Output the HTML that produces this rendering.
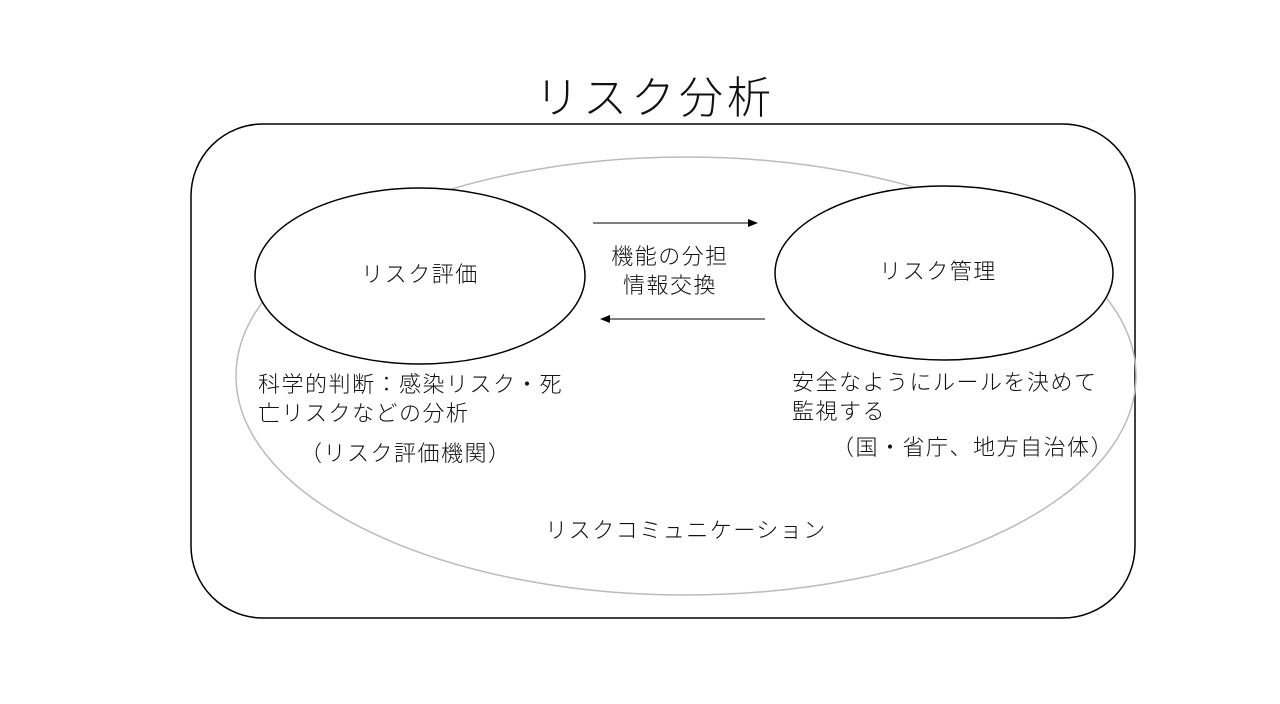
<!DOCTYPE html>
<html><head><meta charset="utf-8"><style>
html,body{margin:0;padding:0;background:#fff;width:1280px;height:704px;overflow:hidden}
text{font-family:"Liberation Sans","Noto Sans CJK JP",sans-serif;fill:#111;font-weight:300}
.t{font-size:22px;letter-spacing:1.5px}
</style></head><body>
<svg width="1280" height="704" viewBox="0 0 1280 704" xmlns="http://www.w3.org/2000/svg">
<text x="655" y="113" font-size="44" text-anchor="middle" letter-spacing="4">リスク分析</text>
<rect x="191" y="124" width="944" height="494" rx="72" ry="72" fill="none" stroke="#000" stroke-width="1.5"/>
<ellipse cx="686" cy="376" rx="450" ry="219" fill="none" stroke="#bbb" stroke-width="1.5"/>
<ellipse cx="420" cy="276" rx="165" ry="88" fill="#fff" stroke="#000" stroke-width="1.5"/>
<ellipse cx="944" cy="273" rx="169" ry="87" fill="#fff" stroke="#000" stroke-width="1.5"/>
<text class="t" x="420" y="282" text-anchor="middle">リスク評価</text>
<text class="t" x="938" y="279" text-anchor="middle">リスク管理</text>
<line x1="593" y1="223" x2="750" y2="223" stroke="#000" stroke-width="1"/>
<polygon points="758,223 748,219 748,227" fill="#000"/>
<line x1="608" y1="319" x2="765" y2="319" stroke="#000" stroke-width="1"/>
<polygon points="600,319 610,315 610,323" fill="#000"/>
<text class="t" x="670" y="264" text-anchor="middle">機能の分担</text>
<text class="t" x="670" y="293" text-anchor="middle">情報交換</text>
<text class="t" x="258" y="392">科学的判断：感染リスク・死</text>
<text class="t" x="258" y="421">亡リスクなどの分析</text>
<text class="t" x="300" y="461">（リスク評価機関）</text>
<text class="t" x="792" y="390">安全なようにルールを決めて</text>
<text class="t" x="792" y="419">監視する</text>
<text class="t" x="832" y="455">（国・省庁、地方自治体）</text>
<text class="t" x="686" y="538" text-anchor="middle">リスクコミュニケーション</text>
</svg>
</body></html>
